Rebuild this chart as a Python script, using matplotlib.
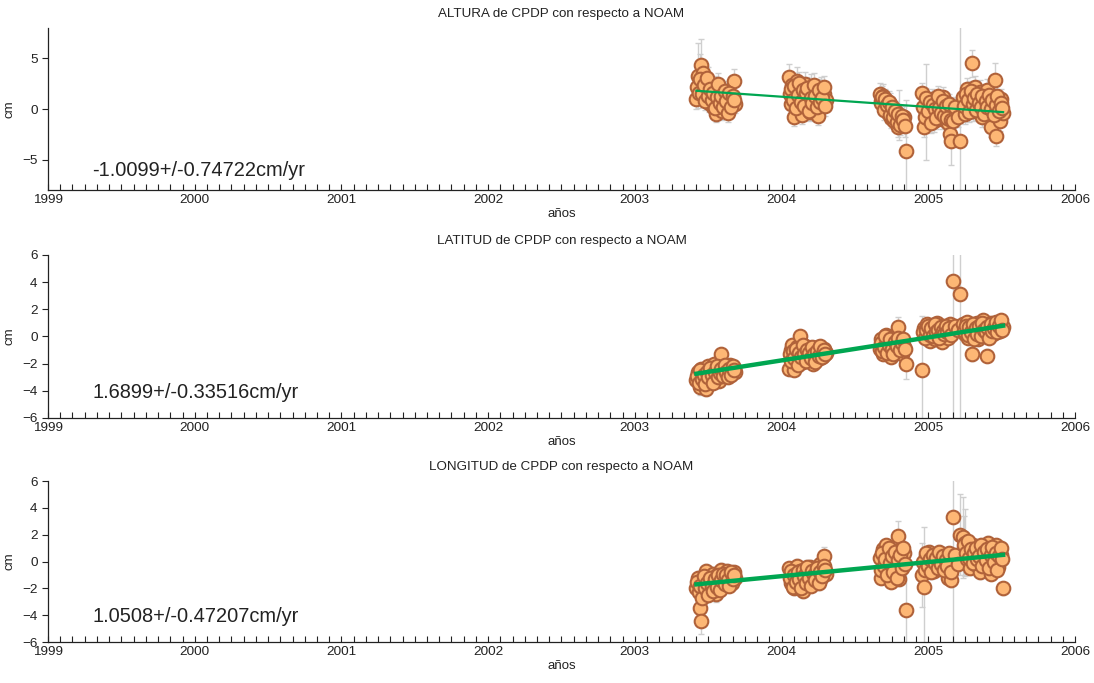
import numpy as np
import matplotlib.pyplot as plt
from matplotlib.ticker import MultipleLocator

plt.rcParams["font.family"] = ["Liberation Sans", "DejaVu Sans"]

# fechas (año decimal), cinco campañas + puntos sueltos
t_c1 = [2003.420, 2003.431, 2003.442, 2003.453, 2003.464, 2003.475, 2003.486, 2003.497, 2003.508,
        2003.519, 2003.530, 2003.541, 2003.552, 2003.563, 2003.574, 2003.585, 2003.596, 2003.607,
        2003.618, 2003.629, 2003.640, 2003.651, 2003.662, 2003.673, 2003.684]
t_c1b = [2003.425, 2003.436, 2003.447, 2003.458, 2003.469, 2003.480, 2003.491, 2003.502, 2003.513,
         2003.524, 2003.535, 2003.546, 2003.557, 2003.568, 2003.579, 2003.590, 2003.601, 2003.612,
         2003.623, 2003.634, 2003.645, 2003.656, 2003.667, 2003.678]
t_c2 = [2004.050, 2004.061, 2004.072, 2004.083, 2004.094, 2004.105, 2004.116, 2004.127, 2004.138,
        2004.149, 2004.160, 2004.171, 2004.182, 2004.193, 2004.204, 2004.215, 2004.226, 2004.237,
        2004.248, 2004.259, 2004.270, 2004.281, 2004.292, 2004.303]
t_c2b = [2004.055, 2004.066, 2004.077, 2004.088, 2004.099, 2004.110, 2004.121, 2004.132, 2004.143,
         2004.154, 2004.165, 2004.176, 2004.187, 2004.198, 2004.209, 2004.220, 2004.231, 2004.242,
         2004.253, 2004.264, 2004.275, 2004.286, 2004.297]
t_c3 = [2004.670, 2004.681, 2004.692, 2004.703, 2004.714, 2004.725, 2004.736, 2004.747, 2004.758,
        2004.769, 2004.780, 2004.791, 2004.802, 2004.813, 2004.824, 2004.835, 2004.850]
t_c3b = [2004.675, 2004.686, 2004.697, 2004.708, 2004.719, 2004.730, 2004.741, 2004.752, 2004.763,
         2004.774, 2004.785, 2004.796, 2004.807, 2004.818, 2004.829, 2004.840]
t_c4 = [2004.960, 2004.971, 2004.982, 2004.993, 2005.004, 2005.015, 2005.026, 2005.037, 2005.048,
        2005.059, 2005.070, 2005.081, 2005.092, 2005.103, 2005.114, 2005.125, 2005.136, 2005.147,
        2005.158]
t_c4b = [2004.966, 2004.977, 2004.988, 2004.999, 2005.010, 2005.021, 2005.032, 2005.043, 2005.054,
         2005.065, 2005.076, 2005.087, 2005.098, 2005.109, 2005.120, 2005.131, 2005.142, 2005.153]
t_sep = [2005.170, 2005.185, 2005.200, 2005.213]
t_c5 = [2005.240, 2005.251, 2005.262, 2005.274, 2005.285, 2005.296, 2005.307, 2005.319, 2005.330,
        2005.341, 2005.352, 2005.364, 2005.375, 2005.386, 2005.397, 2005.409, 2005.420, 2005.431,
        2005.442, 2005.454, 2005.465, 2005.476, 2005.487, 2005.499, 2005.510]
t_c5b = [2005.245, 2005.257, 2005.268, 2005.279, 2005.290, 2005.302, 2005.313, 2005.324, 2005.335,
         2005.347, 2005.358, 2005.369, 2005.380, 2005.392, 2005.403, 2005.414, 2005.425, 2005.437,
         2005.448, 2005.459, 2005.470, 2005.482, 2005.493, 2005.504]

# ALTURA (cm)
h_c1 = [1.0, 3.3, 2.5, 4.3, 3.6, 2.0, 1.2, 2.8, 0.6, 1.8, 0.2, 2.2, -0.5, 1.4, 0.4, 1.9, -0.2, 1.0,
        0.3, 1.5, 0.0, 1.1, 0.7, 2.8, 0.5]
h_c1b = [2.2, 1.6, 3.0, 1.5, 2.4, 0.8, 3.1, 1.3, 2.0, 0.9, 1.6, 0.1, 1.2, 2.5, 0.6, 1.3, 0.2, 1.8,
         0.8, -0.4, 1.6, 0.2, 1.3, 0.9]
h_c2 = [3.2, 0.5, 2.4, -0.8, 1.6, 2.8, 0.2, 1.9, -0.6, 1.2, 2.5, 0.8, 1.7, -0.3, 2.2, 1.0, 0.4, 1.8,
        -0.7, 1.3, 2.0, 0.6, 1.5, 0.9]
h_c2b = [1.5, 2.0, 0.9, 2.3, 0.1, 1.4, 2.6, 0.7, 1.9, 0.3, 1.6, 2.1, -0.2, 1.1, 0.6, 2.4, 1.3, 0.2,
         1.9, 0.7, 1.1, 2.2, 0.3]
h_c3 = [1.5, 0.8, 1.3, 0.2, 0.9, -0.4, 0.5, -0.9, 0.1, -1.2, -0.3, -1.8, -0.6, -1.0, -1.4, -0.8, -4.1]
h_c3b = [0.6, 1.2, -0.1, 1.0, 0.4, 0.7, -0.6, 0.2, -0.8, -0.2, -1.3, -0.5, -1.6, -0.7, -1.1, -1.7]
h_c4 = [1.6, -1.8, -0.3, -0.9, 0.3, -0.4, 1.0, -1.2, 0.2, 0.8, -0.6, 0.4, -1.0, 1.2, -0.2, 0.6, -1.4,
        -2.5, -3.2]
h_c4b = [0.2, -0.8, 1.1, -0.2, 0.7, -1.4, 0.4, 0.0, -0.9, 1.3, 0.1, -0.4, 0.8, -0.7, 0.3, -0.9, 0.5,
         -1.1]
h_sep = [-1.2, 0.2, -0.8, -3.2]
h_c5 = [1.2, -0.5, 2.0, 0.6, 1.6, 4.5, -0.2, 2.2, 0.9, 0.3, 1.7, -0.8, 1.0, 0.4, 1.9, -0.3, 0.7, -1.8,
        1.2, 2.9, -2.7, 0.5, -1.2, 1.0, -0.4]
h_c5b = [0.3, 1.5, 0.9, -0.3, 1.8, 0.5, 1.1, -0.1, 1.5, 0.6, 0.2, 1.3, -0.5, 0.8, 0.2, 1.4, 0.0, 0.9,
         -0.6, 0.4, 1.3, -0.2, 0.6, 0.1]
eh_c1 = [1.0, 3.2, 1.2, 2.6, 1.1, 0.9, 1.0, 1.3, 0.9, 1.0, 1.0, 1.1, 0.8, 0.9, 1.0, 1.0, 0.9, 0.8,
         1.0, 1.1, 0.9, 1.0, 0.9, 1.2, 0.9]
eh_c1b = [1.1, 1.0, 2.4, 1.0, 1.2, 0.9, 1.0, 1.1, 0.9, 1.0, 1.0, 0.9, 1.0, 1.1, 1.0, 0.9, 1.0, 1.0,
          1.0, 0.9, 1.0, 1.0, 1.1, 1.0]
eh_c2 = [1.2, 1.0, 1.1, 0.9, 1.0, 1.3, 1.0, 1.1, 0.9, 1.0, 1.2, 1.0, 1.1, 0.9, 1.3, 1.0, 1.0, 1.1,
         0.9, 1.0, 1.2, 1.0, 1.1, 1.0]
eh_c2b = [1.0, 1.1, 1.0, 1.0, 0.9, 1.0, 1.1, 1.0, 1.2, 1.0, 1.0, 1.1, 0.9, 1.0, 1.0, 1.2, 1.0, 1.0,
          1.1, 1.0, 1.0, 1.1, 1.0]
eh_c3 = [1.1, 1.0, 1.2, 1.0, 0.9, 1.0, 1.1, 1.0, 0.9, 1.0, 1.1, 1.0, 2.5, 1.0, 1.0, 1.1, 5.0]
eh_c3b = [1.0, 1.1, 1.0, 1.0, 1.0, 1.1, 1.0, 1.0, 1.0, 1.0, 1.1, 1.0, 1.0, 1.0, 1.0, 1.1]
eh_c4 = [1.0, 1.0, 4.7, 1.0, 1.1, 1.0, 1.0, 1.1, 1.0, 1.0, 1.1, 1.0, 1.0, 1.0, 1.1, 1.0, 1.0,
         1.2, 2.3]
eh_c4b = [1.0, 1.0, 1.0, 1.1, 1.0, 1.0, 1.0, 1.0, 1.1, 1.0, 1.0, 1.0, 1.0, 1.1, 1.0, 1.0, 1.0, 1.0]
eh_sep = [1.0, 1.0, 1.0, 20.0]
eh_c5 = [1.0, 1.0, 1.1, 1.0, 1.0, 1.3, 1.0, 1.1, 1.0, 1.0, 1.2, 1.0, 1.0, 1.0, 1.1, 1.0, 1.0, 1.0,
         1.0, 1.6, 1.0, 1.0, 1.0, 1.0, 1.0]
eh_c5b = [1.0, 1.1, 1.0, 1.0, 1.0, 1.0, 1.1, 1.0, 1.0, 1.0, 1.0, 1.1, 1.0, 1.0, 1.0, 1.0, 1.0, 1.1,
          1.0, 1.0, 1.0, 1.0, 1.0, 1.0]

# LATITUD (cm)
la_c1 = [-3.2, -2.6, -3.7, -2.4, -3.0, -2.7, -3.9, -2.2, -2.9, -2.5, -3.1, -2.0, -2.8, -2.4, -3.3,
         -1.3, -2.6, -2.2, -2.9, -2.3, -2.7, -2.1, -2.5, -2.3, -2.6]
la_c1b = [-2.9, -3.4, -2.5, -3.1, -2.8, -3.5, -2.6, -3.0, -2.3, -2.8, -3.4, -2.6, -2.2, -3.0, -2.7,
          -2.4, -2.9, -2.1, -2.6, -3.0, -2.4, -2.8, -2.2, -2.5]
la_c2 = [-2.4, -1.0, -0.6, -2.5, -1.5, -0.8, -1.8, 0.0, -1.1, -1.9, -0.7, -1.4, -1.7, -0.9, -1.3,
         -2.0, -1.0, -1.5, -0.8, -1.6, -1.1, -1.4, -0.9, -1.2]
la_c2b = [-1.3, -1.8, -1.1, -1.6, -0.9, -2.1, -1.2, -1.5, -0.6, -1.3, -1.8, -1.0, -1.2, -1.6, -0.8,
          -1.3, -1.9, -1.1, -1.4, -0.7, -1.5, -1.0, -1.3]
la_c3 = [-0.9, -0.2, -1.3, -0.5, 0.1, -1.0, -0.4, -1.5, -0.7, -0.1, -1.1, 0.7, -0.6, -0.3, -1.3, -0.8,
         -2.0]
la_c3b = [-0.5, -1.1, -0.8, 0.0, -1.2, -0.6, -0.2, -0.9, -1.3, -0.4, -0.7, -0.1, -1.0, -0.5, -0.2,
          -0.9]
la_c4 = [-2.5, 0.6, 0.0, 0.9, 0.2, -0.3, 0.7, 0.4, -0.2, 1.0, 0.3, 0.5, -0.4, 0.8, 0.1, 0.6, -0.1,
         0.9, 0.4]
la_c4b = [0.3, -0.1, 0.5, 0.8, 0.1, 0.6, 0.0, 0.9, 0.3, 0.5, -0.1, 0.7, 0.4, 0.2, 0.8, 0.3, 0.6, 0.1]
la_sep = [4.1, 0.8, 0.5, 3.1]
la_c5 = [0.9, 0.2, 1.1, -0.1, 0.6, -1.3, 0.8, 0.3, 1.0, -0.2, 0.7, 0.4, 1.2, 0.1, -1.4, 0.8, 0.5,
         1.0, 0.2, 0.9, 0.6, 1.1, 0.4, 1.0, 0.7]
la_c5b = [0.4, 0.8, 0.1, 0.7, 0.3, 0.9, -0.2, 0.6, 0.2, 0.8, 0.0, 1.0, 0.5, 0.3, 0.7, -0.1, 0.9, 0.4,
          0.6, 1.1, 0.3, 0.8, 1.2, 0.5]
ela_c1 = [0.5, 0.4, 0.6, 0.4, 0.4, 0.4, 0.5, 0.4, 0.4, 0.4, 0.4, 0.4, 0.4, 0.4, 0.4, 0.4, 0.4, 0.4,
          0.4, 0.4, 0.4, 0.4, 0.4, 0.4, 0.4]
ela_c1b = [0.4, 0.4, 0.4, 0.4, 0.4, 0.4, 0.4, 0.4, 0.4, 0.4, 0.4, 0.4, 0.4, 0.4, 0.4, 0.4, 0.4, 0.4,
           0.4, 0.4, 0.4, 0.4, 0.4, 0.4]
ela_c2 = [0.4, 0.4, 0.4, 0.4, 0.4, 0.4, 0.4, 0.4, 0.4, 0.4, 0.4, 0.4, 0.4, 0.4, 0.4, 0.4, 0.4, 0.4,
          0.4, 0.4, 0.4, 0.4, 0.4, 0.4]
ela_c2b = [0.4, 0.4, 0.4, 0.4, 0.4, 0.4, 0.4, 0.4, 0.4, 0.4, 0.4, 0.4, 0.4, 0.4, 0.4, 0.4, 0.4, 0.4,
           0.4, 0.4, 0.4, 0.4, 0.4]
ela_c3 = [0.4, 0.4, 0.4, 0.4, 0.4, 0.4, 0.4, 0.4, 0.4, 0.4, 0.4, 0.7, 0.4, 0.4, 0.4, 0.4, 1.1]
ela_c3b = [0.4, 0.4, 0.4, 0.4, 0.4, 0.4, 0.4, 0.4, 0.4, 0.4, 0.4, 0.4, 0.4, 0.4, 0.4, 0.4]
ela_c4 = [4.0, 0.4, 0.4, 0.4, 0.4, 0.4, 0.4, 0.4, 0.4, 0.4, 0.4, 0.4, 0.4, 0.4, 0.4, 0.4, 0.4,
          0.4, 0.4]
ela_c4b = [0.4, 0.4, 0.4, 0.4, 0.4, 0.4, 0.4, 0.4, 0.4, 0.4, 0.4, 0.4, 0.4, 0.4, 0.4, 0.4, 0.4, 0.4]
ela_sep = [20.0, 0.4, 0.4, 20.0]
ela_c5 = [0.4, 0.4, 0.4, 0.4, 0.4, 0.5, 0.4, 0.4, 0.4, 0.4, 0.4, 0.4, 0.4, 0.4, 0.5, 0.4, 0.4,
          0.4, 0.4, 0.4, 0.4, 0.4, 0.4, 0.4, 0.4]
ela_c5b = [0.4, 0.4, 0.4, 0.4, 0.4, 0.4, 0.4, 0.4, 0.4, 0.4, 0.4, 0.4, 0.4, 0.4, 0.4, 0.4, 0.4, 0.4,
           0.4, 0.4, 0.4, 0.4, 0.4, 0.4]

# LONGITUD (cm)
lo_c1 = [-2.0, -1.2, -3.5, -4.4, -2.6, -1.8, -0.7, -2.3, -1.4, -2.1, -0.9, -1.7, -2.4, -1.0, -1.6,
         -0.6, -1.9, -1.1, -1.5, -0.7, -1.3, -0.9, -1.6, -0.8, -1.2]
lo_c1b = [-1.5, -2.3, -1.8, -2.7, -1.1, -2.0, -1.6, -2.5, -1.2, -1.8, -2.2, -1.3, -1.9, -1.0, -2.1,
          -1.4, -0.9, -1.7, -1.0, -1.4, -1.8, -0.8, -1.3, -1.0]
lo_c2 = [-0.5, -1.6, -0.9, -2.0, -1.2, -0.3, -1.8, -0.7, -1.4, -2.2, -0.8, -1.1, -1.7, -0.4, -1.3,
         -0.9, -1.5, -0.6, -1.0, -0.2, -1.2, -0.7, 0.4, -0.9]
lo_c2b = [-1.2, -0.7, -1.9, -1.0, -1.5, -0.8, -1.3, -2.0, -0.6, -1.1, -1.6, -0.4, -1.2, -1.8, -0.7,
          -1.0, -1.4, -0.5, -1.6, -0.8, -1.1, -0.3, -0.6]
lo_c3 = [0.3, -1.2, 0.9, -0.5, 1.2, -0.9, 0.5, -1.5, 0.0, 0.8, -0.7, 1.9, -1.3, 0.4, -0.4, 0.6, -3.6]
lo_c3b = [-0.6, 0.6, -0.3, 0.2, -1.0, 1.0, -0.1, 0.4, -0.8, 0.7, -1.2, 0.1, 0.5, -0.5, 1.0, -0.2]
lo_c4 = [-1.0, -1.9, 0.4, -0.5, 0.7, -0.2, 0.3, -0.7, 0.5, 0.0, -0.4, 0.6, -0.1, 0.2, -0.6, 0.4,
         -1.2, 0.1, -1.4]
lo_c4b = [0.0, -0.6, 0.6, -0.3, 0.2, -0.8, 0.5, -0.1, 0.3, -0.5, 0.7, -0.2, 0.4, -0.6, 0.1, -0.3,
          0.6, -0.8]
lo_sep = [3.3, 0.5, -0.2, 2.0]
lo_c5 = [1.8, 1.4, 0.2, 1.0, -0.5, 0.7, 1.2, -0.2, 0.5, 0.9, -0.8, 0.3, 1.1, 0.6, -0.3, 1.4, 0.4,
         -0.9, 0.8, 0.2, 1.2, -0.4, 0.9, 0.5, -2.0]
lo_c5b = [1.2, 0.6, 1.5, 0.3, 0.9, -0.1, 0.6, 1.0, 0.2, 0.4, 1.2, -0.3, 0.7, 0.1, 0.9, -0.5, 0.5,
          1.1, 0.0, 0.6, -0.6, 0.4, 1.0, 0.2]
elo_c1 = [0.5, 0.5, 0.9, 1.0, 0.5, 0.5, 0.5, 0.6, 0.5, 0.5, 0.5, 0.5, 0.6, 0.5, 0.5, 0.5, 0.5, 0.5,
          0.5, 0.5, 0.5, 0.5, 0.5, 0.5, 0.5]
elo_c1b = [0.5, 0.6, 0.5, 0.5, 0.5, 0.5, 0.5, 0.5, 0.5, 0.5, 0.5, 0.5, 0.5, 0.5, 0.5, 0.5, 0.5, 0.5,
           0.5, 0.5, 0.5, 0.5, 0.5, 0.5]
elo_c2 = [0.5, 0.5, 0.5, 0.5, 0.5, 0.5, 0.5, 0.5, 0.5, 0.5, 0.5, 0.5, 0.5, 0.5, 0.5, 0.5, 0.5, 0.5,
          0.5, 0.5, 0.5, 0.5, 0.7, 0.5]
elo_c2b = [0.5, 0.5, 0.5, 0.5, 0.5, 0.5, 0.5, 0.5, 0.5, 0.5, 0.5, 0.5, 0.5, 0.5, 0.5, 0.5, 0.5, 0.5,
           0.5, 0.5, 0.5, 0.5, 0.5]
elo_c3 = [0.5, 0.5, 0.5, 0.5, 0.5, 0.5, 0.5, 0.5, 0.5, 0.5, 0.5, 1.1, 0.5, 0.5, 0.5, 0.5, 3.0]
elo_c3b = [0.5, 0.5, 0.5, 0.5, 0.5, 0.5, 0.5, 0.5, 0.5, 0.5, 0.5, 0.5, 0.5, 0.5, 0.5, 0.5]
elo_c4 = [2.4, 4.5, 0.5, 0.5, 0.5, 0.5, 0.5, 0.5, 0.5, 0.5, 0.5, 0.5, 0.5, 0.5, 0.5, 0.5, 0.5,
          0.5, 0.5]
elo_c4b = [0.5, 0.5, 0.5, 0.5, 0.5, 0.5, 0.5, 0.5, 0.5, 0.5, 0.5, 0.5, 0.5, 0.5, 0.5, 0.5, 0.5, 0.5]
elo_sep = [20.0, 0.5, 0.5, 3.0]
elo_c5 = [3.0, 2.5, 0.5, 0.5, 0.5, 0.5, 0.5, 0.5, 0.5, 0.5, 0.5, 0.5, 0.5, 0.5, 0.5, 0.5, 0.5,
          0.5, 0.5, 0.5, 0.5, 0.5, 0.5, 0.5, 0.5]
elo_c5b = [2.2, 0.5, 0.5, 0.5, 0.5, 0.5, 0.5, 0.5, 0.5, 0.5, 0.5, 0.5, 0.5, 0.5, 0.5, 0.5, 0.5, 0.5,
           0.5, 0.5, 0.5, 0.5, 0.5, 0.5]

# ajuste lineal (valor al inicio y pendiente)
fit_t = [2003.42, 2005.51]
fit_start = [1.80, -2.74, -1.70]
rates = [-1.0099, 1.6899, 1.0508]
rate_err = [0.74722, 0.33516, 0.47207]

titles = ["ALTURA de CPDP con respecto a NOAM",
          "LATITUD de CPDP con respecto a NOAM",
          "LONGITUD de CPDP con respecto a NOAM"]
ylims = [(-8, 8), (-6, 6), (-6, 6)]
ysteps = [5, 2, 2]
text_y = [-6.1, -4.1, -4.1]

t_all = np.array(t_c1 + t_c1b + t_c2 + t_c2b + t_c3 + t_c3b + t_c4 + t_c4b + t_sep + t_c5 + t_c5b)
series = [
    (h_c1 + h_c1b + h_c2 + h_c2b + h_c3 + h_c3b + h_c4 + h_c4b + h_sep + h_c5 + h_c5b,
     eh_c1 + eh_c1b + eh_c2 + eh_c2b + eh_c3 + eh_c3b + eh_c4 + eh_c4b + eh_sep + eh_c5 + eh_c5b),
    (la_c1 + la_c1b + la_c2 + la_c2b + la_c3 + la_c3b + la_c4 + la_c4b + la_sep + la_c5 + la_c5b,
     ela_c1 + ela_c1b + ela_c2 + ela_c2b + ela_c3 + ela_c3b + ela_c4 + ela_c4b + ela_sep + ela_c5 + ela_c5b),
    (lo_c1 + lo_c1b + lo_c2 + lo_c2b + lo_c3 + lo_c3b + lo_c4 + lo_c4b + lo_sep + lo_c5 + lo_c5b,
     elo_c1 + elo_c1b + elo_c2 + elo_c2b + elo_c3 + elo_c3b + elo_c4 + elo_c4b + elo_sep + elo_c5 + elo_c5b),
]

fig = plt.figure(figsize=(10.94, 6.83), dpi=100)
boxes = [[0.0439, 0.7218, 0.9387, 0.2372],
         [0.0439, 0.3880, 0.9387, 0.2387],
         [0.0439, 0.0600, 0.9387, 0.2357]]
fit_lw = [1.6, 3.2, 3.2]

for i, (vals, errs) in enumerate(series):
    ax = fig.add_axes(boxes[i])
    ax.errorbar(t_all, vals, yerr=errs, fmt="none", ecolor="#cfcfcf", elinewidth=1.0,
                capsize=2.5, capthick=1.0, zorder=1)
    ax.plot(t_all, vals, "o", ms=9.8, mfc="#fdb775", mec="#b0623a", mew=1.5, zorder=2)
    t0, t1 = fit_t
    ax.plot(fit_t, [fit_start[i], fit_start[i] + rates[i] * (t1 - t0)], color="#00a651",
            lw=fit_lw[i], zorder=3)

    ax.set_xlim(1999, 2006)
    ax.set_ylim(*ylims[i])
    ax.xaxis.set_major_locator(MultipleLocator(1))
    ax.xaxis.set_minor_locator(MultipleLocator(1 / 12))
    ax.yaxis.set_major_locator(MultipleLocator(ysteps[i]))
    ax.tick_params(axis="x", which="both", direction="in", length=4.5, width=0.8,
                   labelsize=9.7, pad=3, colors="#222222")
    ax.tick_params(axis="y", direction="out", length=4, width=0.8, labelsize=9.7,
                   colors="#222222")
    for side in ["top", "right"]:
        ax.spines[side].set_visible(False)
    for side in ["left", "bottom"]:
        ax.spines[side].set_linewidth(0.9)
        ax.spines[side].set_color("#222222")

    ax.set_title(titles[i], fontsize=9.6, pad=8, color="#222222")
    ax.set_xlabel("años", fontsize=9.5, labelpad=1, color="#222222")
    ax.set_ylabel("cm", fontsize=9.5, labelpad=5, color="#222222")

    lab = f"{rates[i]:g}+/-{rate_err[i]:g}cm/yr"
    ax.text(1999.30, text_y[i], lab, fontsize=14.4, va="center", ha="left", color="#222222")

fig.savefig("out.png", dpi=100)
